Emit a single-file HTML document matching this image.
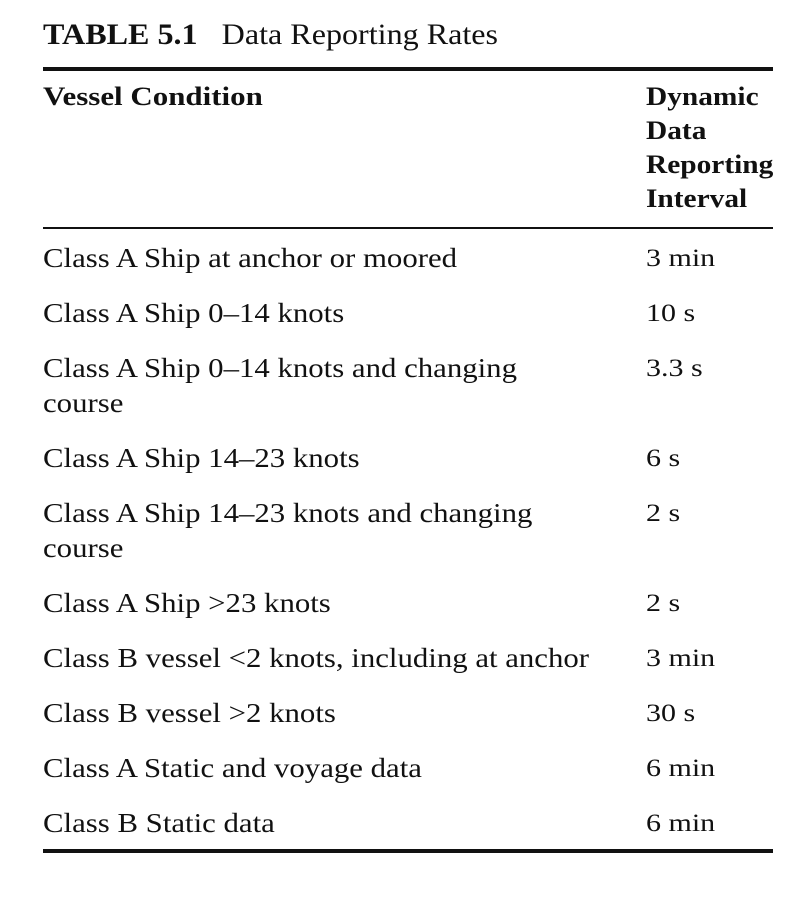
<!DOCTYPE html>
<html><head><meta charset="utf-8"><style>
body{margin:0;width:798px;height:908px;background:#fff;position:relative;font-family:"Liberation Serif",serif;color:#111;overflow:hidden}
.t{position:absolute;white-space:nowrap;line-height:34px;height:34px;transform-origin:0 50%}
.l{left:43px;font-size:27.5px;transform:scaleX(1.12)}
.r{left:646px;font-size:25px;transform:scaleX(1.2)}
.h{font-weight:bold;font-size:26px;transform:scaleX(1.13)}
.rule{position:absolute;left:43px;width:730px;background:#111}
</style></head><body>
<div class="t" style="left:43px;top:18px;font-size:30px;transform:scaleX(1.07)"><b>TABLE 5.1</b>&nbsp;&nbsp;&nbsp;Data Reporting Rates</div>
<div class="rule" style="top:67px;height:4px"></div>
<div class="t h" style="left:43px;top:80px;transform:scaleX(1.19)">Vessel Condition</div>
<div class="t h" style="left:646px;top:80px">Dynamic</div>
<div class="t h" style="left:646px;top:114px">Data</div>
<div class="t h" style="left:646px;top:148px">Reporting</div>
<div class="t h" style="left:646px;top:182px">Interval</div>
<div class="rule" style="top:227px;height:2px"></div>
<div class="t l" style="top:241px">Class A Ship at anchor or moored</div><div class="t r" style="top:242px">3 min</div>
<div class="t l" style="top:296px">Class A Ship 0–14 knots</div><div class="t r" style="top:297px">10 s</div>
<div class="t l" style="top:351px">Class A Ship 0–14 knots and changing</div><div class="t r" style="top:352px">3.3 s</div>
<div class="t l" style="top:386px">course</div>
<div class="t l" style="top:441px">Class A Ship 14–23 knots</div><div class="t r" style="top:442px">6 s</div>
<div class="t l" style="top:496px">Class A Ship 14–23 knots and changing</div><div class="t r" style="top:497px">2 s</div>
<div class="t l" style="top:531px">course</div>
<div class="t l" style="top:586px">Class A Ship &gt;23 knots</div><div class="t r" style="top:587px">2 s</div>
<div class="t l" style="top:641px">Class B vessel &lt;2 knots, including at anchor</div><div class="t r" style="top:642px">3 min</div>
<div class="t l" style="top:696px">Class B vessel &gt;2 knots</div><div class="t r" style="top:697px">30 s</div>
<div class="t l" style="top:751px">Class A Static and voyage data</div><div class="t r" style="top:752px">6 min</div>
<div class="t l" style="top:806px">Class B Static data</div><div class="t r" style="top:807px">6 min</div>
<div class="rule" style="top:849px;height:4px"></div>
</body></html>
